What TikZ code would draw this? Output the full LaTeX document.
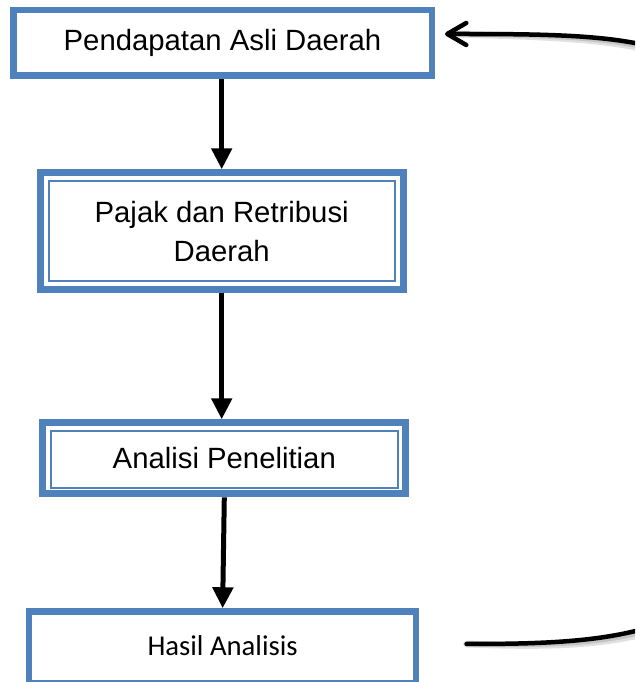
\documentclass[tikz,border=0pt]{standalone}
\usepackage{fontspec}
\setmainfont{Liberation Sans}
\newfontfamily\calfont{Carlito}
\usetikzlibrary{arrows.meta,calc}
\definecolor{boxblue}{HTML}{4F81BD}
\begin{document}
\begin{tikzpicture}[x=1pt,y=1pt,
  box/.style={draw=boxblue, fill=white, rectangle, inner sep=0pt, align=center,
    font=\fontsize{29.3}{39.5}\selectfont},
  thickbox/.style={box, line width=6.5pt},
  dblbox/.style={box, line width=7pt},
  innerline/.style={draw=boxblue, line width=2pt},
  flow/.style={line width=5pt, -{Triangle[length=21pt,width=20pt]}},
  back/.style={line width=4.5pt, line cap=round, line join=round,
    -{Straight Barb[length=19pt,width=22pt,line cap=round,line join=round]}},
  shadow/.style={line width=7pt, draw=black, opacity=0.12, line cap=round}
]
\useasboundingbox (0,0) rectangle (635,682);
\clip (0,0) rectangle (635,682);
\fill[white] (0,0) rectangle (635,682);

\node[thickbox, minimum width=418.5pt, minimum height=65.5pt] (b1) at (222.5,639) {Pendapatan Asli Daerah};
\node[dblbox, minimum width=363pt, minimum height=117pt] (b2) at (221.7,450.7) {Pajak dan Retribusi\\Daerah};
\node[dblbox, minimum width=363pt, minimum height=71pt] (b3) at (224.3,223.7) {Analisi Penelitian};
\node[thickbox, minimum width=386.75pt, minimum height=71.5pt, font=\calfont\fontsize{28.7}{34}\selectfont] (b4) at (222.6,34.7) {\raisebox{3pt}{Hasil Analisis}};

\draw[innerline] ($(b2.south west)+(11.8,11.8)$) rectangle ($(b2.north east)-(11.8,11.8)$);
\draw[innerline] ($(b3.south west)+(11.2,9.6)$) rectangle ($(b3.north east)-(11.2,11.8)$);

\draw[flow] (b2.north |- b1.south) -- (b2.north);
\draw[flow] (b2.south) -- (b2.south |- b3.north);
\draw[flow] (b3.south) -- (b4.north);

\coordinate (cs) at ($(b4.east)+(47.4,3.3)$);
\coordinate (ce) at ($(b1.east)+(10,9)$);

\begin{scope}[shift={(1,-5)}]
\draw[shadow] (cs) .. controls (600,38) and (680,44) .. (760,120) -- (760,560)
   .. controls (700,647) and (620,648) .. ($(ce)+(14,0)$);
\end{scope}
\begin{scope}[shift={(1,-3)}]
\draw[shadow, line width=5pt] (cs) .. controls (600,38) and (680,44) .. (760,120) -- (760,560)
   .. controls (700,647) and (620,648) .. ($(ce)+(14,0)$);
\end{scope}
\draw[back] (cs) .. controls (600,38) and (680,44) .. (760,120) -- (760,560)
   .. controls (700,647) and (620,648) .. (ce);
\end{tikzpicture}
\end{document}
